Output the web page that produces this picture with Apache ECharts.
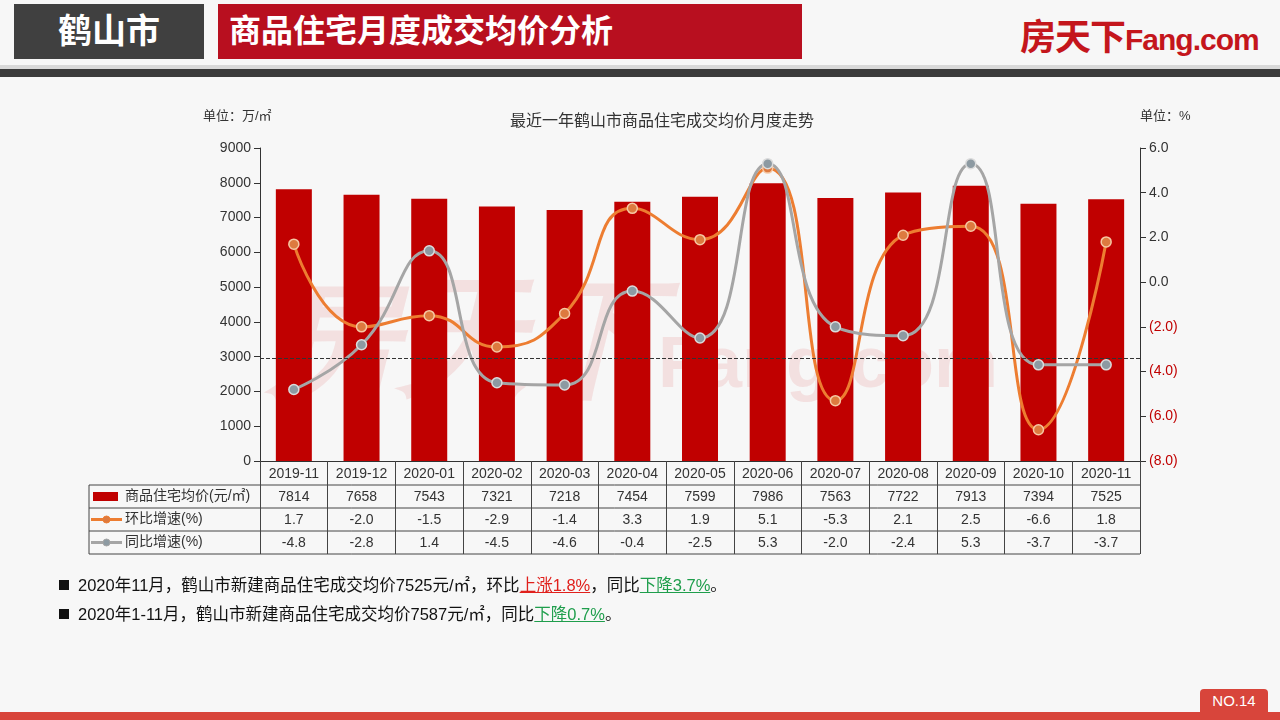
<!DOCTYPE html>
<html>
<head>
<meta charset="utf-8">
<title>鹤山市商品住宅月度成交均价分析</title>
<script src="https://cdn.jsdelivr.net/npm/echarts@6/dist/echarts.min.js"></script>
<style>
  html, body { margin: 0; padding: 0; }
  body {
    width: 1280px; height: 720px; overflow: hidden; position: relative;
    background: #f7f7f7;
    font-family: "Liberation Sans", "Noto Sans CJK SC", sans-serif;
  }
  .abs { position: absolute; }
  .city {
    left: 14px; top: 4px; width: 190px; height: 55px; background: #404040;
    color: #fff; font-weight: bold; font-size: 34px; line-height: 55px; text-align: center;
  }
  .title {
    left: 218px; top: 4px; width: 573px; height: 55px; padding-left: 11px; background: #b80f1f;
    color: #fff; font-weight: bold; font-size: 32px; line-height: 55px;
  }
  .logo { left: 1020px; top: 8px; color: #c4161c; font-weight: bold; white-space: nowrap; }
  .logo .cn { font-size: 36px; letter-spacing: -1px; }
  .logo .en { font-size: 30px; letter-spacing: -1px; }
  .rule1 { left: 0; top: 65px; width: 1280px; height: 4px; background: #d9d9d9; }
  .rule2 { left: 0; top: 69px; width: 1280px; height: 8px; background: #3c3c3c; }
  .note { left: 59px; font-size: 16.5px; color: #111; white-space: nowrap; }
  .note .sq { display: inline-block; width: 10px; height: 10px; background: #111; margin-right: 9px; vertical-align: 1px; }
  .up { color: #e0201c; text-decoration: underline; }
  .down { color: #1f9e4c; text-decoration: underline; }
  .foot { left: 0; top: 712px; width: 1280px; height: 8px; background: #d8453b; }
  .page {
    left: 1200px; top: 689px; width: 68px; height: 23px; background: #d8453b; border-radius: 4px 4px 0 0;
    color: #fff; font-size: 15px; line-height: 23px; text-align: center;
  }
  #main { position: absolute; left: 0; top: 0; width: 1280px; height: 720px; }
</style>
</head>
<body>
<div class="abs city">鹤山市</div>
<div class="abs title">商品住宅月度成交均价分析</div>
<div class="abs logo"><span class="cn">房天下</span><span class="en">Fang.com</span></div>
<div class="abs rule1"></div>
<div class="abs rule2"></div>
<div id="main"></div>
<div class="abs note" style="top:572px"><span class="sq"></span>2020年11月，鹤山市新建商品住宅成交均价7525元/㎡，环比<span class="up">上涨1.8%</span>，同比<span class="down">下降3.7%</span>。</div>
<div class="abs note" style="top:601px"><span class="sq"></span>2020年1-11月，鹤山市新建商品住宅成交均价7587元/㎡，同比<span class="down">下降0.7%</span>。</div>
<div class="abs foot"></div>
<div class="abs page">NO.14</div>

<script>
// 数据
const months = ['2019-11', '2019-12', '2020-01', '2020-02', '2020-03', '2020-04', '2020-05',
  '2020-06', '2020-07', '2020-08', '2020-09', '2020-10', '2020-11']
const avgPrice = [7814, 7658, 7543, 7321, 7218, 7454, 7599, 7986, 7563, 7722, 7913, 7394, 7525]
const momRate = [1.7, -2.0, -1.5, -2.9, -1.4, 3.3, 1.9, 5.1, -5.3, 2.1, 2.5, -6.6, 1.8]
const yoyRate = [-4.8, -2.8, 1.4, -4.5, -4.6, -0.4, -2.5, 5.3, -2.0, -2.4, 5.3, -3.7, -3.7]
const seriesNames = ['商品住宅均价(元/㎡)', '环比增速(%)', '同比增速(%)']
const refLine = 2960

const FONT = '"Liberation Sans", "Noto Sans CJK SC", sans-serif'
// 布局
const G = { left: 260, right: 1140, top: 148, bottom: 461 }
const rowH = 23
const tableLeft = 89
const rowY = [G.bottom, G.bottom + 24, G.bottom + 24 + rowH, G.bottom + 24 + rowH * 2, G.bottom + 24 + rowH * 3]

const chart = echarts.init(document.getElementById('main'), null, { renderer: 'canvas' })

function fmtPct (v) {
  return v < 0 ? '(' + Math.abs(v).toFixed(1) + ')' : v.toFixed(1)
}

// 表格框线和图例
let tableGraphics = []
for (let i = 1; i < rowY.length; i++) {
  tableGraphics.push({
    type: 'line',
    shape: { x1: tableLeft, y1: rowY[i], x2: G.right, y2: rowY[i] },
    style: { stroke: '#444', lineWidth: 1 }
  })
}
tableGraphics.push({
  type: 'line',
  shape: { x1: tableLeft, y1: rowY[1], x2: tableLeft, y2: rowY[4] },
  style: { stroke: '#444', lineWidth: 1 }
})
const rowMid = i => (rowY[i] + rowY[i + 1]) / 2
tableGraphics.push({
  type: 'rect',
  shape: { x: 93, y: rowMid(1) - 4.5, width: 25, height: 9 },
  style: { fill: '#c00000' }
})
const lineIcons = [['#ed7d31', '#dd7a3f'], ['#a5a5a5', '#8d9aa2']]
lineIcons.forEach((c, k) => {
  const y = rowMid(2 + k)
  tableGraphics.push({ type: 'line', shape: { x1: 91, y1: y, x2: 122, y2: y }, style: { stroke: c[0], lineWidth: 3 } })
  tableGraphics.push({ type: 'circle', shape: { cx: 106.5, cy: y, r: 3.5 }, style: { fill: c[1], stroke: c[0], lineWidth: 1 } })
})
seriesNames.forEach((n, k) => {
  tableGraphics.push({
    type: 'text',
    x: 125, y: rowMid(1 + k),
    style: { text: n, font: '14px ' + FONT, fill: '#333', verticalAlign: 'middle' }
  })
})

let option = {
  animation: false,
  textStyle: { fontFamily: FONT },
  title: {
    text: '最近一年鹤山市商品住宅成交均价月度走势',
    left: 505,
    top: 109,
    textStyle: { fontSize: 16, fontWeight: 'normal', color: '#333' }
  },
  grid: { left: G.left, right: 1280 - G.right, top: G.top, bottom: 720 - G.bottom },
  graphic: [
    {
      type: 'text',
      left: 268,
      top: 282,
      z: 0,
      style: {
        text: '{a|房天下}{b|Fang.com}',
        rich: {
          a: { fontSize: 130, fontWeight: 'bold', fontStyle: 'italic', fill: 'rgba(225,110,110,0.17)' },
          b: { fontSize: 72, fontWeight: 'bold', fill: 'rgba(225,110,110,0.17)', padding: [40, 0, 0, 0] }
        }
      }
    },
    { type: 'text', left: 203, top: 110, style: { text: '单位：万/㎡', font: '13px ' + FONT, fill: '#333' } },
    { type: 'text', left: 1140, top: 110, style: { text: '单位：%', font: '13px ' + FONT, fill: '#333' } },
    ...tableGraphics
  ],
  xAxis: {
    type: 'category',
    data: months,
    boundaryGap: true,
    axisLine: { lineStyle: { color: '#333', width: 1 } },
    axisTick: { show: true, length: rowY[4] - rowY[0], lineStyle: { color: '#444' } },
    axisLabel: {
      interval: 0,
      margin: 1,
      formatter (v, i) {
        return '{d|' + v + '}\n{v|' + avgPrice[i] + '}\n{v|' + momRate[i].toFixed(1) + '}\n{v|' + yoyRate[i].toFixed(1) + '}'
      },
      rich: {
        d: { fontSize: 14, lineHeight: 24, color: '#333', fontFamily: FONT },
        v: { fontSize: 14, lineHeight: rowH, color: '#333', fontFamily: FONT }
      }
    }
  },
  yAxis: [
    {
      type: 'value',
      min: 0,
      max: 9000,
      interval: 1000,
      axisLine: { show: true, lineStyle: { color: '#333' } },
      axisTick: { show: true, length: 6, lineStyle: { color: '#333' } },
      axisLabel: { fontSize: 14, color: '#333', margin: 9, formatter: v => String(v) },
      splitLine: { show: false }
    },
    {
      type: 'value',
      position: 'right',
      min: -8,
      max: 6,
      interval: 2,
      axisLine: { show: true, lineStyle: { color: '#333' } },
      axisTick: { show: true, length: 6, lineStyle: { color: '#333' } },
      axisLabel: {
        fontSize: 14,
        margin: 9,
        formatter: fmtPct,
        color: v => (v < 0 ? '#c00000' : '#333')
      },
      splitLine: { show: false }
    }
  ],
  series: [
    {
      name: seriesNames[0],
      type: 'bar',
      data: avgPrice,
      barWidth: 36,
      itemStyle: { color: '#c00000' },
      markLine: {
        silent: true,
        symbol: 'none',
        label: { show: false },
        lineStyle: { type: 'dashed', color: '#333', width: 1 },
        data: [{ yAxis: refLine }]
      }
    },
    {
      name: seriesNames[1],
      type: 'line',
      yAxisIndex: 1,
      data: momRate,
      smooth: 0.5,
      symbol: 'circle',
      symbolSize: 10,
      lineStyle: { width: 3, color: '#ed7d31' },
      itemStyle: { color: '#dd7a3f', borderColor: '#f6c8a4', borderWidth: 1.5 }
    },
    {
      name: seriesNames[2],
      type: 'line',
      yAxisIndex: 1,
      data: yoyRate,
      smooth: 0.5,
      symbol: 'circle',
      symbolSize: 10,
      lineStyle: { width: 3, color: '#a5a5a5' },
      itemStyle: { color: '#8d9aa2', borderColor: '#dcdcdc', borderWidth: 1.5 }
    }
  ]
}
chart.setOption(option)
</script>
</body>
</html>
